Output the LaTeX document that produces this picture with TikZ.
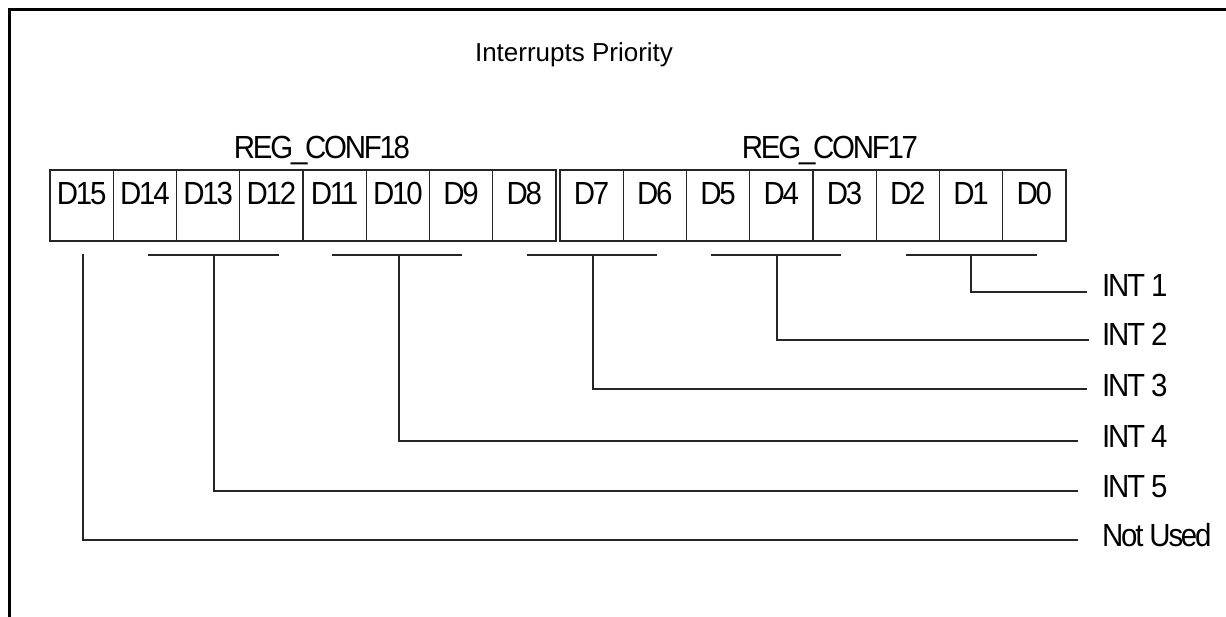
\documentclass[tikz,border=0pt]{standalone}
\usepackage{fontspec}
\setmainfont{Liberation Sans}
\newfontfamily\labfont[FakeStretch=0.92,LetterSpace=-7]{Liberation Sans}
\begin{document}
\begin{tikzpicture}[x=1pt,y=-1pt,
  thin line/.style={line width=1.4pt,draw=black!85},
  cell/.style={draw=black!85,line width=1.4pt,minimum width=63.25pt,minimum height=71pt,
    inner sep=0pt,text height=22pt,text depth=23pt,font=\labfont\fontsize{32}{36}\selectfont},
  lab/.style={inner sep=0pt,font=\labfont\fontsize{32}{36}\selectfont},
  titlefont/.style={inner sep=0pt,font=\fontsize{26}{30}\selectfont}]
\useasboundingbox (0,0) rectangle (1226,617);
% frame
\draw[line width=3pt] (9,617) -- (9,10) -- (1226,10);
% title and register names
\node[titlefont,anchor=base] (title) at (574,62) {Interrupts Priority};
\node[lab,anchor=base] (r18) at (322,159) {REG\_CONF18};
\node[lab,anchor=base] (r17) at (830,159) {REG\_CONF17};
% cells
\foreach \i in {0,...,7}{
  \pgfmathtruncatemacro\n{15-\i}
  \node[cell] (c\n) at ({50+63.25*(\i+0.5)},205.5) {D\n};
}
\foreach \i in {0,...,7}{
  \pgfmathtruncatemacro\n{7-\i}
  \node[cell] (c\n) at ({560+63.25*(\i+0.5)},205.5) {D\n};
}
% output labels
\node[lab,anchor=base west] (l1) at (1102,297) {INT 1};
\node[lab,anchor=base west] (l2) at (1102,346) {INT 2};
\node[lab,anchor=base west] (l3) at (1102,396) {INT 3};
\node[lab,anchor=base west] (l4) at (1102,447) {INT 4};
\node[lab,anchor=base west] (l5) at (1102,497) {INT 5};
\node[lab,anchor=base west] (l0) at (1102,546) {Not Used};
% bars and connector points
\coordinate (b1l) at (906,255);  \coordinate (b1r) at (1037,255); \coordinate (b1) at (971,255);
\coordinate (b2l) at (711,255);  \coordinate (b2r) at (841,255);  \coordinate (b2) at (777,255);
\coordinate (b3l) at (527,255);  \coordinate (b3r) at (657,255);  \coordinate (b3) at (593,255);
\coordinate (b4l) at (332,255);  \coordinate (b4r) at (462,255);  \coordinate (b4) at (399,255);
\coordinate (b5l) at (148,255);  \coordinate (b5r) at (279,255);  \coordinate (b5) at (214,255);
\coordinate (b0) at (83,254);
\coordinate (e1) at (1087,292);
\coordinate (e2) at (1089,340);
\coordinate (e3) at (1087,389);
\coordinate (e4) at (1078,441);
\coordinate (e5) at (1078,491);
\coordinate (e0) at (1078,540);
\foreach \k in {1,...,5}{
  \draw[thin line] (b\k l) -- (b\k r);
  \draw[thin line] (b\k) |- (e\k);
}
\draw[thin line] (b0) |- (e0);
\end{tikzpicture}
\end{document}
